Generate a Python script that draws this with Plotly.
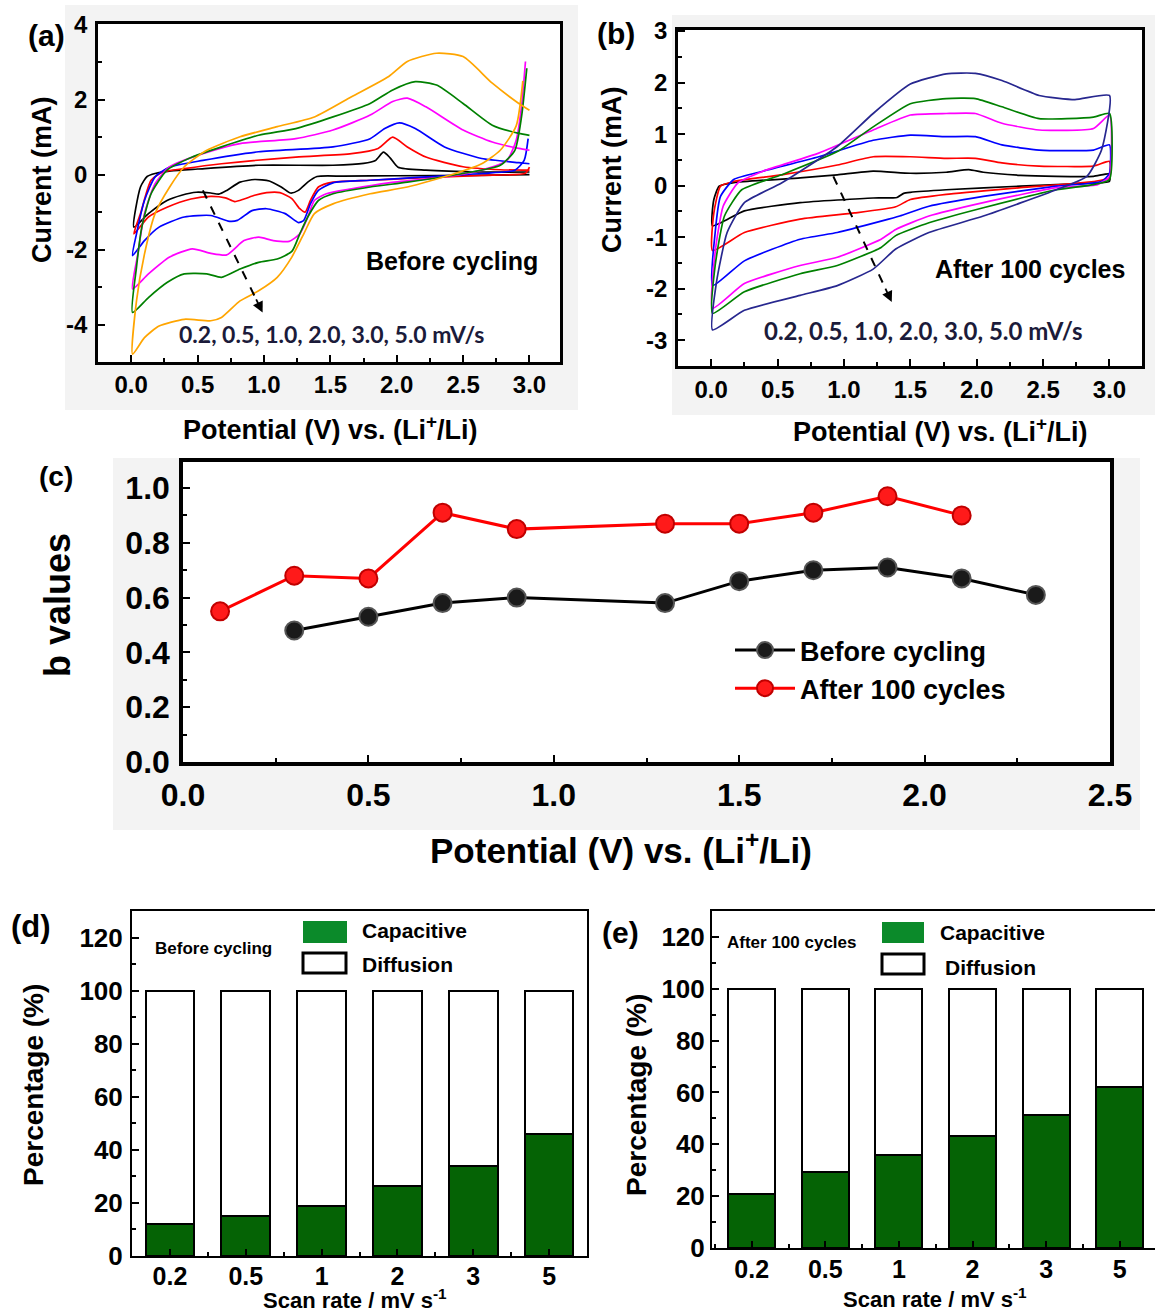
import plotly.graph_objects as go

W, H = 1155, 1315
def px(x): return x / W
def py(y): return 1 - y / H

# ---------------- Panel (a): CV before cycling ----------------
A_V_02 = [3.0, 2.6, 2.0, 1.6, 1.40, 1.33, 1.26, 1.20, 1.13, 1.04, 0.93, 0.82, 0.72, 0.66, 0.60, 0.49, 0.38, 0.27, 0.13, 0.02,
          0.07, 0.12, 0.18, 0.3, 0.5, 0.96, 1.52, 1.75, 1.84, 1.90, 1.95, 2.01, 2.22, 2.64, 3.0]
A_I_02 = [0.0, -0.02, -0.03, -0.04, -0.05, -0.2, -0.42, -0.49, -0.33, -0.17, -0.13, -0.2, -0.42, -0.52, -0.49, -0.47, -0.55, -0.69, -1.04, -1.40,
          -0.33, -0.05, 0.03, 0.1, 0.15, 0.25, 0.25, 0.3, 0.38, 0.6, 0.45, 0.2, 0.12, 0.07, 0.07]
A_V_05 = [3.0, 2.97, 2.64, 2.08, 1.8, 1.52, 1.41, 1.35, 1.31, 1.27, 1.21, 1.12, 1.02, 0.93, 0.85, 0.78, 0.71, 0.6, 0.45, 0.27, 0.13, 0.02,
          0.07, 0.15, 0.24, 0.40, 0.68, 1.24, 1.66, 1.86, 1.97, 2.08, 2.22, 2.50, 2.78, 3.0]
A_I_05 = [0.2, 0.04, -0.02, -0.1, -0.15, -0.2, -0.33, -0.69, -1.0, -0.91, -0.64, -0.48, -0.48, -0.55, -0.65, -0.72, -0.62, -0.58, -0.65, -0.87, -1.13, -1.58,
          -1.04, -0.15, 0.07, 0.16, 0.29, 0.47, 0.56, 0.70, 1.0, 0.74, 0.47, 0.21, 0.13, 0.12]
A_V_10 = [2.99, 2.96, 2.89, 2.64, 2.22, 1.80, 1.52, 1.41, 1.35, 1.30, 1.26, 1.16, 1.02, 0.91, 0.80, 0.73, 0.60, 0.40, 0.21, 0.10, 0.01,
          0.04, 0.10, 0.18, 0.29, 0.54, 0.96, 1.52, 1.80, 1.91, 2.02, 2.14, 2.36, 2.64, 2.92, 3.0]
A_I_10 = [0.96, 0.38, 0.12, 0.03, -0.06, -0.15, -0.22, -0.42, -0.78, -1.22, -1.28, -1.04, -0.91, -0.96, -1.22, -1.24, -1.09, -1.13, -1.40, -1.76, -2.16,
          -1.58, -0.69, -0.06, 0.2, 0.38, 0.61, 0.74, 0.96, 1.23, 1.38, 1.23, 0.74, 0.43, 0.32, 0.29]
A_V_20 = [2.97, 2.94, 2.90, 2.83, 2.64, 2.36, 1.94, 1.66, 1.47, 1.38, 1.33, 1.27, 1.19, 1.07, 0.96, 0.85, 0.72, 0.60, 0.46, 0.29, 0.13, 0.01,
          0.05, 0.10, 0.18, 0.29, 0.54, 0.82, 1.24, 1.52, 1.80, 1.97, 2.08, 2.22, 2.50, 2.72, 2.92, 3.0]
A_I_20 = [3.02, 1.81, 0.92, 0.38, 0.12, -0.06, -0.22, -0.38, -0.51, -0.69, -1.13, -1.58, -1.78, -1.76, -1.67, -1.76, -2.14, -2.10, -1.98, -2.2, -2.65, -3.05,
          -2.12, -1.04, -0.24, 0.21, 0.56, 0.83, 0.96, 1.19, 1.59, 1.95, 2.04, 1.81, 1.19, 0.87, 0.70, 0.65]
A_V_30 = [2.98, 2.94, 2.89, 2.78, 2.5, 2.08, 1.80, 1.52, 1.41, 1.33, 1.27, 1.21, 1.10, 0.96, 0.82, 0.68, 0.57, 0.40, 0.27, 0.13, 0.01,
          0.04, 0.08, 0.15, 0.27, 0.46, 0.68, 0.96, 1.24, 1.52, 1.80, 1.97, 2.14, 2.30, 2.50, 2.72, 2.92, 3.0]
A_I_30 = [2.84, 1.54, 0.65, 0.25, 0.03, -0.2, -0.33, -0.51, -0.69, -1.13, -1.58, -2.05, -2.25, -2.34, -2.52, -2.74, -2.65, -2.65, -2.88, -3.28, -3.68,
          -2.47, -1.4, -0.51, 0.12, 0.47, 0.74, 1.05, 1.23, 1.54, 1.90, 2.26, 2.48, 2.39, 1.90, 1.32, 1.10, 1.05]
A_V_50 = [2.95, 2.90, 2.78, 2.64, 2.44, 2.08, 1.80, 1.52, 1.38, 1.30, 1.21, 1.10, 0.96, 0.82, 0.68, 0.60, 0.40, 0.21, 0.10, 0.01,
          0.04, 0.10, 0.18, 0.29, 0.40, 0.57, 0.82, 1.10, 1.38, 1.66, 1.94, 2.08, 2.30, 2.50, 2.72, 2.92, 3.0]
A_I_50 = [2.5, 1.3, 0.65, 0.29, 0.03, -0.33, -0.51, -0.78, -1.04, -1.58, -2.2, -2.74, -3.10, -3.37, -3.81, -3.90, -3.86, -4.04, -4.35, -4.79,
          -3.37, -2.12, -1.04, -0.33, 0.21, 0.65, 1.01, 1.28, 1.54, 2.08, 2.62, 3.02, 3.24, 3.15, 2.44, 1.9, 1.72]

# ---------------- Panel (b): CV after 100 cycles ----------------
B_V_02 = [0.01, 0.02, 0.06, 0.17, 0.67, 0.95, 1.22, 1.50, 1.77, 1.94, 2.05, 2.33, 2.60, 2.88, 3.0, 3.0,
          2.88, 2.33, 1.77, 1.50, 1.45, 1.40, 1.22, 0.67, 0.25, 0.01]
B_I_02 = [-0.78, -0.27, -0.01, 0.06, 0.15, 0.21, 0.28, 0.24, 0.26, 0.31, 0.26, 0.20, 0.18, 0.18, 0.23, 0.08,
          0.05, -0.01, -0.08, -0.13, -0.15, -0.23, -0.24, -0.33, -0.49, -0.78]
B_V_05 = [0.01, 0.02, 0.07, 0.17, 0.53, 0.95, 1.22, 1.50, 1.77, 1.99, 2.19, 2.47, 2.88, 3.0, 3.0,
          2.88, 2.33, 1.77, 1.50, 1.39, 1.08, 0.67, 0.25, 0.01]
B_I_05 = [-1.26, -0.53, -0.01, 0.08, 0.21, 0.40, 0.56, 0.56, 0.53, 0.53, 0.44, 0.38, 0.38, 0.47, 0.15,
          0.08, -0.04, -0.17, -0.27, -0.41, -0.53, -0.65, -0.91, -1.26]
B_V_10 = [0.01, 0.03, 0.07, 0.17, 0.39, 0.81, 1.22, 1.50, 1.77, 1.99, 2.19, 2.47, 2.88, 3.0, 3.0,
          2.94, 2.60, 2.05, 1.64, 1.42, 1.28, 0.95, 0.67, 0.25, 0.01]
B_I_10 = [-1.94, -0.91, -0.21, 0.12, 0.28, 0.56, 0.88, 0.98, 0.95, 0.95, 0.79, 0.69, 0.69, 0.79, 0.24,
          0.08, -0.01, -0.21, -0.40, -0.59, -0.69, -0.91, -1.04, -1.46, -1.94]
B_V_20 = [0.01, 0.03, 0.09, 0.20, 0.39, 0.81, 1.22, 1.50, 1.77, 1.99, 2.19, 2.47, 2.88, 3.0, 3.0,
          2.91, 2.60, 2.05, 1.64, 1.39, 1.28, 0.95, 0.67, 0.25, 0.01]
B_I_20 = [-2.38, -1.29, -0.40, 0.05, 0.28, 0.63, 1.08, 1.37, 1.40, 1.40, 1.21, 1.08, 1.11, 1.37, 0.18,
          0.02, -0.04, -0.33, -0.59, -0.85, -1.04, -1.39, -1.55, -1.90, -2.38]
B_V_30 = [0.01, 0.03, 0.10, 0.23, 0.53, 0.95, 1.22, 1.50, 1.77, 1.99, 2.19, 2.47, 2.88, 3.0, 3.0,
          2.88, 2.60, 2.05, 1.64, 1.39, 1.28, 0.95, 0.67, 0.25, 0.01]
B_I_30 = [-2.48, -1.55, -0.59, -0.08, 0.21, 0.66, 1.14, 1.59, 1.69, 1.69, 1.53, 1.30, 1.33, 1.40, 0.12,
          0.02, -0.08, -0.43, -0.72, -0.97, -1.20, -1.55, -1.71, -2.06, -2.48]
B_V_50 = [0.01, 0.04, 0.12, 0.25, 0.53, 0.95, 1.22, 1.50, 1.77, 1.99, 2.19, 2.47, 2.74, 3.0,
          2.94, 2.83, 2.60, 2.05, 1.64, 1.39, 1.22, 0.95, 0.67, 0.25, 0.01]
B_I_50 = [-2.80, -1.87, -0.91, -0.33, 0.05, 0.76, 1.40, 1.97, 2.17, 2.18, 2.04, 1.75, 1.67, 1.75,
          0.69, 0.18, -0.08, -0.59, -0.91, -1.23, -1.62, -1.94, -2.13, -2.42, -2.80]

# ---------------- Panel (c): b values ----------------
C_V_BEFORE = [0.3, 0.5, 0.7, 0.9, 1.3, 1.5, 1.7, 1.9, 2.1, 2.3]
C_B_BEFORE = [0.48, 0.53, 0.58, 0.60, 0.58, 0.66, 0.70, 0.71, 0.67, 0.61]
C_V_AFTER = [0.1, 0.3, 0.5, 0.7, 0.9, 1.3, 1.5, 1.7, 1.9, 2.1]
C_B_AFTER = [0.55, 0.68, 0.67, 0.91, 0.85, 0.87, 0.87, 0.91, 0.97, 0.90]

# ---------------- Panels (d),(e): contributions ----------------
SCAN_RATES = ["0.2", "0.5", "1", "2", "3", "5"]
D_CAP = [12.0, 15.0, 18.7, 26.2, 34.0, 46.0]
D_DIF = [88.0, 85.0, 81.3, 73.8, 66.0, 54.0]
E_CAP = [20.8, 29.4, 35.8, 43.3, 51.3, 62.0]
E_DIF = [79.2, 70.6, 64.2, 56.7, 48.7, 38.0]

# tick labels
A_YTICKS = [4, 2, 0, -2, -4]
A_YTEXT = ["4", "2", "0", "-2", "-4"]
B_YTICKS = [3, 2, 1, 0, -1, -2, -3]
B_YTEXT = ["3", "2", "1", "0", "-1", "-2", "-3"]
A_YMINOR = [3, 1, -1, -3, -5]
B_YMINOR = [2.5, 1.5, 0.5, -0.5, -1.5, -2.5, -3.5]

RATE_LABELS = ["0.2", "0.5", "1.0", "2.0", "3.0", "5.0"]
A_COLORS = ["#000000", "#ff0000", "#0000ff", "#ff00ff", "#008000", "#ffa500"]
B_COLORS = ["#000000", "#ff0000", "#0000ff", "#ff00ff", "#008000", "#27278f"]

FONT = "Liberation Sans, Arial, sans-serif"
NARROW = "Liberation Sans Narrow, Liberation Sans, Arial, sans-serif"

fig = go.Figure()

a_data = [(A_V_02, A_I_02), (A_V_05, A_I_05), (A_V_10, A_I_10), (A_V_20, A_I_20), (A_V_30, A_I_30), (A_V_50, A_I_50)]
for (v, i), c, r in zip(a_data, A_COLORS, RATE_LABELS):
    fig.add_trace(go.Scatter(x=v, y=i, mode="lines", line=dict(color=c, width=1.7, shape="spline", smoothing=0.6),
                             name=r + " mV/s", showlegend=False, xaxis="x", yaxis="y"))

b_data = [(B_V_02, B_I_02), (B_V_05, B_I_05), (B_V_10, B_I_10), (B_V_20, B_I_20), (B_V_30, B_I_30), (B_V_50, B_I_50)]
for (v, i), c, r in zip(b_data, B_COLORS, RATE_LABELS):
    fig.add_trace(go.Scatter(x=v, y=i, mode="lines", line=dict(color=c, width=1.7, shape="spline", smoothing=0.5),
                             name=r + " mV/s", showlegend=False, xaxis="x2", yaxis="y2"))

fig.add_trace(go.Scatter(x=C_V_BEFORE, y=C_B_BEFORE, mode="lines+markers", name="Before cycling",
                         line=dict(color="#000000", width=3),
                         marker=dict(size=18, color="#1a1a1a", line=dict(color="#555555", width=2)),
                         xaxis="x3", yaxis="y3"))
fig.add_trace(go.Scatter(x=C_V_AFTER, y=C_B_AFTER, mode="lines+markers", name="After 100 cycles",
                         line=dict(color="#ff0000", width=3),
                         marker=dict(size=18, color="#ff1a1a", line=dict(color="#c00000", width=2)),
                         xaxis="x3", yaxis="y3"))

xpos = list(range(len(SCAN_RATES)))
for cap, dif, xa, ya in [(D_CAP, D_DIF, "x4", "y4"), (E_CAP, E_DIF, "x5", "y5")]:
    fig.add_trace(go.Bar(x=xpos, y=cap, width=0.64, marker=dict(color="#056305", line=dict(color="#000000", width=2)),
                         name="Capacitive", showlegend=False, xaxis=xa, yaxis=ya))
    fig.add_trace(go.Bar(x=xpos, y=dif, width=0.64, marker=dict(color="#ffffff", line=dict(color="#000000", width=2)),
                         name="Diffusion", showlegend=False, xaxis=xa, yaxis=ya))

def ax(domain, rng, dtick, minor_dtick, size, lw=2.5, family=FONT, anchor=None, mirror=True, standoff=4, fmt=None):
    d = dict(domain=domain, range=rng, dtick=dtick, tick0=0, showline=True, linecolor="black", linewidth=lw,
             mirror=mirror, ticks="inside", ticklen=7, tickwidth=2, tickcolor="black", showgrid=False, zeroline=False,
             automargin=False,
             tickfont=dict(family=family, size=size, color="black", weight="bold"),
             minor=dict(ticks="inside", ticklen=4, tickwidth=2, tickcolor="black", dtick=minor_dtick, tick0=0),
             ticklabelstandoff=standoff)
    if fmt:
        d["tickformat"] = fmt
    if anchor:
        d["anchor"] = anchor
    return d

layout = dict(
    width=W, height=H, margin=dict(l=0, r=0, t=0, b=0, pad=0, autoexpand=False), autosize=False,
    paper_bgcolor="white", plot_bgcolor="white", barmode="stack", bargap=0.36,
    xaxis=ax([px(98), px(560)], [-0.25, 3.23], 0.5, 0.25, 24, anchor="y", fmt=".1f", standoff=-1),
    yaxis=ax([py(362), py(24)], [-5.0, 4.02], 2, 1, 24, anchor="x", standoff=3),
    xaxis2=ax([px(678), px(1142)], [-0.25, 3.245], 0.5, 0.25, 24, anchor="y2", fmt=".1f", standoff=0),
    yaxis2=ax([py(366), py(30)], [-3.5, 3.02], 1, 0.5, 24, anchor="x2", standoff=3),
    xaxis3=ax([px(183), px(1110)], [0, 2.5], 0.5, 0.25, 32, lw=3.5, family=NARROW, anchor="y3", standoff=2, fmt=".1f"),
    yaxis3=ax([py(762), py(462)], [0, 1.095], 0.2, 0.1, 32, lw=3.5, family=NARROW, anchor="x3", standoff=3, fmt=".1f"),
    xaxis4=ax([px(132), px(587)], [-0.5, 5.5], 1, 0.5, 25, lw=2, anchor="y4", standoff=-3),
    yaxis4=ax([py(1256), py(911)], [0, 130], 20, 10, 26, lw=2, anchor="x4", standoff=2),
    xaxis5=ax([px(712), 1.0], [-0.54, 5.48], 1, 0.5, 25, lw=2, anchor="y5", standoff=-2),
    yaxis5=ax([py(1248), py(911)], [0, 130], 20, 10, 26, lw=2, anchor="x5", mirror=False, standoff=0),
    legend=dict(x=px(730), y=py(626), xanchor="left", yanchor="top", bgcolor="rgba(255,255,255,0)",
                traceorder="normal", font=dict(family=NARROW, size=27, color="black", weight="bold"),
                itemwidth=60, tracegroupgap=2),
)
for k in ["xaxis4", "xaxis5"]:
    layout[k]["tickvals"] = xpos
    layout[k]["ticktext"] = SCAN_RATES
    layout[k].pop("dtick")
for k, tv, tt, mv in [("yaxis", A_YTICKS, A_YTEXT, A_YMINOR), ("yaxis2", B_YTICKS, B_YTEXT, B_YMINOR)]:
    layout[k]["tickvals"] = tv
    layout[k]["ticktext"] = tt
    layout[k].pop("dtick")
    layout[k]["minor"] = dict(ticks="inside", ticklen=4, tickwidth=2, tickcolor="black", tickmode="array", tickvals=mv)
fig.update_layout(**layout)

# background panels (gray) and white plot areas
shapes = []
for (x0, y0, x1, y1) in [(65, 5, 578, 410), (672, 15, 1155, 415), (113, 458, 1140, 830)]:
    shapes.append(dict(type="rect", xref="paper", yref="paper", x0=px(x0), x1=px(x1), y0=py(y1), y1=py(y0),
                       fillcolor="#f3f3f3", line=dict(width=0), layer="below"))
for xa, ya in [("x", "y"), ("x2", "y2"), ("x3", "y3")]:
    shapes.append(dict(type="rect", xref=xa + " domain", yref=ya + " domain", x0=0, x1=1, y0=0, y1=1,
                       fillcolor="white", line=dict(width=0), layer="below"))

ARROWS = [("x", "y", (0.54, -0.42), (0.99, -3.68)), ("x2", "y2", (0.92, 0.18), (1.36, -2.26))]
for xa, ya, (xs, ys), (xe, ye) in ARROWS:
    fx = xs + (xe - xs) * 0.9
    fy = ys + (ye - ys) * 0.9
    shapes.append(dict(type="line", xref=xa, yref=ya, x0=xs, y0=ys, x1=fx, y1=fy,
                       line=dict(color="black", width=2, dash="dash")))

# legend swatches for (d) and (e)
for (gx0, gy0, gx1, gy1), (wx0, wy0, wx1, wy1) in [((303, 921, 347, 943), (303, 953, 346, 973)),
                                                    ((882, 922, 924, 943), (882, 954, 924, 974))]:
    shapes.append(dict(type="rect", xref="paper", yref="paper", x0=px(gx0), x1=px(gx1), y0=py(gy1), y1=py(gy0),
                       fillcolor="#0b8a2a", line=dict(width=0)))
    shapes.append(dict(type="rect", xref="paper", yref="paper", x0=px(wx0), x1=px(wx1), y0=py(wy1), y1=py(wy0),
                       fillcolor="white", line=dict(color="black", width=3)))
fig.update_layout(shapes=shapes)

ann = []
def t(text, x, y, size, angle=0, anchor="center", family=FONT, color="black"):
    ann.append(dict(text=text, x=px(x), y=py(y), xref="paper", yref="paper", showarrow=False, textangle=angle,
                    xanchor=anchor, yanchor="middle", font=dict(family=family, size=size, color=color, weight="bold")))

t("(a)", 46, 35, 30); t("(b)", 616, 33, 30); t("(c)", 56, 476, 28); t("(d)", 31, 926, 31); t("(e)", 620, 932, 30)
t("Current (mA)", 42, 180, 27, -90)
t("Potential (V) vs. (Li<sup>+</sup>/Li)", 330, 428, 27)
t("Current (mA)", 612, 170, 27, -90)
t("Potential (V) vs. (Li<sup>+</sup>/Li)", 940, 430, 27)
t("b values", 57, 605, 36, -90)
t("Potential (V) vs. (Li<sup>+</sup>/Li)", 621, 848, 35)
t("Percentage (%)", 33, 1085, 28, -90)
t("Scan rate / mV s<sup>-1</sup>", 355, 1299, 22)
t("Percentage (%)", 636, 1095, 28, -90)
t("Scan rate / mV s<sup>-1</sup>", 935, 1298, 22)
t("Before cycling", 213, 948, 17, family=NARROW)
t("After 100 cycles", 791, 942, 17, family=NARROW)
t("Capacitive", 360, 930, 21, anchor="left")
t("Diffusion", 360, 965, 21, anchor="left")
t("Capacitive", 938, 932, 21, anchor="left")
t("Diffusion", 943, 967, 21, anchor="left")

# in-plot texts
for xa, ya, label, lx, ly, rx, ry, rs in [("x", "y", "Before cycling", 2.42, -2.31, 1.51, -4.25, 23),
                                          ("x2", "y2", "After 100 cycles", 2.40, -1.62, 1.60, -2.82, 24)]:
    ann.append(dict(text=label, x=lx, y=ly, xref=xa, yref=ya, showarrow=False,
                    font=dict(family=FONT, size=25, color="black", weight="bold")))
    ann.append(dict(text="0.2, 0.5, 1.0, 2.0, 3.0, 5.0 mV/s", x=rx, y=ry, xref=xa, yref=ya, showarrow=False,
                    font=dict(family="Lato, Open Sans, sans-serif", size=rs, color="#1b1b3a", weight="bold")))

for xa, ya, (xs, ys), (xe, ye) in ARROWS:
    fx = xs + (xe - xs) * 0.88
    fy = ys + (ye - ys) * 0.88
    ann.append(dict(x=xe, y=ye, ax=fx, ay=fy, xref=xa, yref=ya, axref=xa, ayref=ya, showarrow=True, text="",
                    arrowhead=2, arrowsize=1.2, arrowwidth=1.8, arrowcolor="black"))

fig.update_layout(annotations=ann)
fig.write_html("out.html", post_script="document.body.style.margin='0px';document.body.style.overflow='hidden';")
